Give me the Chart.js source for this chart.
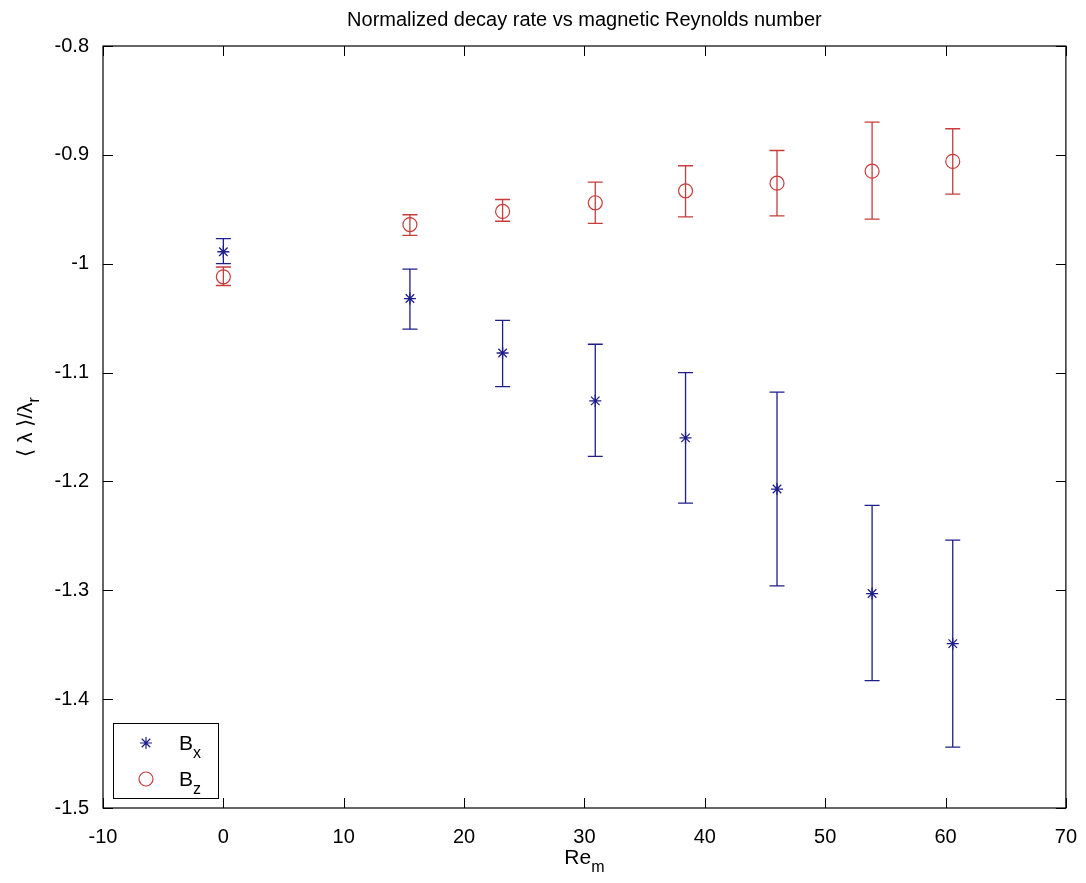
<!DOCTYPE html>
<html>
<head>
<meta charset="utf-8">
<script src="https://cdn.jsdelivr.net/npm/chart.js@4"></script>
<style>
    html, body { margin: 0; padding: 0; background: #ffffff; }
    #wrap { width: 1086px; height: 883px; }
</style>
</head>
<body>
<div id="wrap"><canvas id="decayChart" width="1086" height="883"></canvas></div>
<script>
// Data
const reValues = [0, 15.5, 23.2, 30.9, 38.4, 46.0, 53.9, 60.6];

const bxMean = [-0.989, -1.032, -1.082, -1.126, -1.160, -1.207, -1.303, -1.349];
const bxLow  = [-1.000, -1.060, -1.113, -1.177, -1.220, -1.296, -1.383, -1.444];
const bxHigh = [-0.977, -1.005, -1.052, -1.074, -1.100, -1.118, -1.222, -1.254];

const bzMean = [-1.012, -0.964, -0.952, -0.944, -0.933, -0.926, -0.915, -0.906];
const bzLow  = [-1.020, -0.974, -0.961, -0.963, -0.957, -0.956, -0.959, -0.936];
const bzHigh = [-1.003, -0.955, -0.941, -0.925, -0.910, -0.896, -0.870, -0.876];

const xTicks = [-10, 0, 10, 20, 30, 40, 50, 60, 70];
const yTicks = [-1.5, -1.4, -1.3, -1.2, -1.1, -1, -0.9, -0.8];
const yTickLabels = ['-1.5', '-1.4', '-1.3', '-1.2', '-1.1', '-1', '-0.9', '-0.8'];

const BLUE = '#1f1f8c';
const RED = '#c83c3c';
const FONT = 'Arial, "Liberation Sans", sans-serif';

// Error bars, frame, inside ticks, labels and legend (Matlab style)
const matlabLook = {
    id: 'matlabLook',
    afterDatasetsDraw(chart) {
        const ctx = chart.ctx;
        const xs = chart.scales.x;
        const ys = chart.scales.y;

        const series = [
            { low: bxLow, high: bxHigh, color: BLUE },
            { low: bzLow, high: bzHigh, color: RED }
        ];
        ctx.save();
        ctx.lineWidth = 1.3;
        series.forEach(s => {
            ctx.strokeStyle = s.color;
            reValues.forEach((re, i) => {
                const px = xs.getPixelForValue(re);
                const y1 = ys.getPixelForValue(s.low[i]);
                const y2 = ys.getPixelForValue(s.high[i]);
                ctx.beginPath();
                ctx.moveTo(px, y1); ctx.lineTo(px, y2);
                ctx.moveTo(px - 7.5, y1); ctx.lineTo(px + 7.5, y1);
                ctx.moveTo(px - 7.5, y2); ctx.lineTo(px + 7.5, y2);
                ctx.stroke();
            });
        });
        ctx.restore();
    },
    afterDraw(chart) {
        const ctx = chart.ctx;
        const xs = chart.scales.x;
        const ys = chart.scales.y;
        const a = chart.chartArea;

        ctx.save();
        // frame
        ctx.strokeStyle = '#000';
        ctx.lineWidth = 1.2;
        ctx.strokeRect(a.left, a.top, a.right - a.left, a.bottom - a.top);

        // inside ticks on all four sides
        ctx.beginPath();
        xTicks.forEach(v => {
            const px = Math.round(xs.getPixelForValue(v)) + 0.5;
            ctx.moveTo(px, a.bottom); ctx.lineTo(px, a.bottom - 10);
            ctx.moveTo(px, a.top); ctx.lineTo(px, a.top + 10);
        });
        yTicks.forEach(v => {
            const py = Math.round(ys.getPixelForValue(v)) + 0.5;
            ctx.moveTo(a.left, py); ctx.lineTo(a.left + 10, py);
            ctx.moveTo(a.right, py); ctx.lineTo(a.right - 10, py);
        });
        ctx.lineWidth = 1;
        ctx.stroke();

        // title
        ctx.fillStyle = '#000';
        ctx.font = '20px ' + FONT;
        ctx.textAlign = 'center';
        ctx.textBaseline = 'middle';
        const cx = (a.left + a.right) / 2;
        ctx.fillText('Normalized decay rate vs magnetic Reynolds number', cx, 20);

        // x label: Re with subscript m
        ctx.textAlign = 'left';
        ctx.textBaseline = 'alphabetic';
        ctx.font = '21px ' + FONT;
        const reW = ctx.measureText('Re').width;
        ctx.font = '16px ' + FONT;
        const mW = ctx.measureText('m').width;
        const xStart = cx - (reW + mW) / 2;
        ctx.font = '21px ' + FONT;
        ctx.fillText('Re', xStart, 864);
        ctx.font = '16px ' + FONT;
        ctx.fillText('m', xStart + reW, 872);

        // y label: <lambda>/lambda_r, rotated
        ctx.save();
        ctx.translate(32, (a.top + a.bottom) / 2);
        ctx.rotate(-Math.PI / 2);
        ctx.font = '21px ' + FONT;
        const main = '\u27E8 \u03BB \u27E9/\u03BB';
        const mainW = ctx.measureText(main).width;
        ctx.font = '16px ' + FONT;
        const rW = ctx.measureText('r').width;
        const yStart = -(mainW + rW) / 2;
        ctx.font = '21px ' + FONT;
        ctx.fillText(main, yStart, 0);
        ctx.font = '16px ' + FONT;
        ctx.fillText('r', yStart + mainW, 7);
        ctx.restore();

        // legend box
        const lx = a.left + 10, ly = a.bottom - 85, lw = 105, lh = 75;
        ctx.fillStyle = '#fff';
        ctx.fillRect(lx, ly, lw, lh);
        ctx.strokeStyle = '#000';
        ctx.lineWidth = 1;
        ctx.strokeRect(lx + 0.5, ly + 0.5, lw, lh);

        const entries = [
            { style: 'star', color: BLUE, radius: 6, sub: 'x', y: ly + 20 },
            { style: 'circle', color: RED, radius: 7, sub: 'z', y: ly + 56 }
        ];
        entries.forEach(e => {
            ctx.strokeStyle = e.color;
            ctx.fillStyle = 'rgba(0,0,0,0)';
            ctx.lineWidth = 1.2;
            Chart.helpers.drawPoint(ctx, {
                pointStyle: e.style,
                radius: e.radius,
                rotation: 0,
                borderWidth: 1.2
            }, lx + 33, e.y);

            ctx.fillStyle = '#000';
            ctx.font = '21px ' + FONT;
            ctx.textBaseline = 'alphabetic';
            ctx.fillText('B', lx + 66, e.y + 7);
            const bW = ctx.measureText('B').width;
            ctx.font = '16px ' + FONT;
            ctx.fillText(e.sub, lx + 66 + bW, e.y + 15);
        });
        ctx.restore();
    }
};

const ctx = document.getElementById('decayChart').getContext('2d');
const chart = new Chart(ctx, {
    type: 'scatter',
    data: {
        datasets: [
            {
                label: 'Bx',
                data: reValues.map((re, i) => ({ x: re, y: bxMean[i] })),
                pointStyle: 'star',
                radius: 6,
                borderColor: BLUE,
                backgroundColor: BLUE,
                borderWidth: 1.3
            },
            {
                label: 'Bz',
                data: reValues.map((re, i) => ({ x: re, y: bzMean[i] })),
                pointStyle: 'circle',
                radius: 7,
                borderColor: RED,
                backgroundColor: 'rgba(0,0,0,0)',
                borderWidth: 1.2
            }
        ]
    },
    options: {
        responsive: false,
        animation: false,
        layout: { padding: { top: 46, right: 16, left: 0, bottom: 0 } },
        plugins: {
            legend: { display: false },
            tooltip: { enabled: false },
            title: { display: false }
        },
        scales: {
            x: {
                type: 'linear',
                min: -10,
                max: 70,
                grid: { display: false },
                border: { display: false },
                afterBuildTicks: scale => { scale.ticks = xTicks.map(v => ({ value: v })); },
                afterFit: scale => { scale.height = 75; },
                ticks: {
                    color: '#000',
                    padding: 9,
                    maxRotation: 0,
                    font: { size: 20, family: FONT },
                    callback: v => String(v)
                }
            },
            y: {
                type: 'linear',
                min: -1.5,
                max: -0.8,
                grid: { display: false },
                border: { display: false },
                afterBuildTicks: scale => { scale.ticks = yTicks.map(v => ({ value: v })); },
                afterFit: scale => { scale.width = 103; },
                ticks: {
                    color: '#000',
                    padding: 6,
                    font: { size: 20, family: FONT },
                    callback: (v, i) => yTickLabels[i]
                }
            }
        }
    },
    plugins: [matlabLook]
});
</script>
</body>
</html>
